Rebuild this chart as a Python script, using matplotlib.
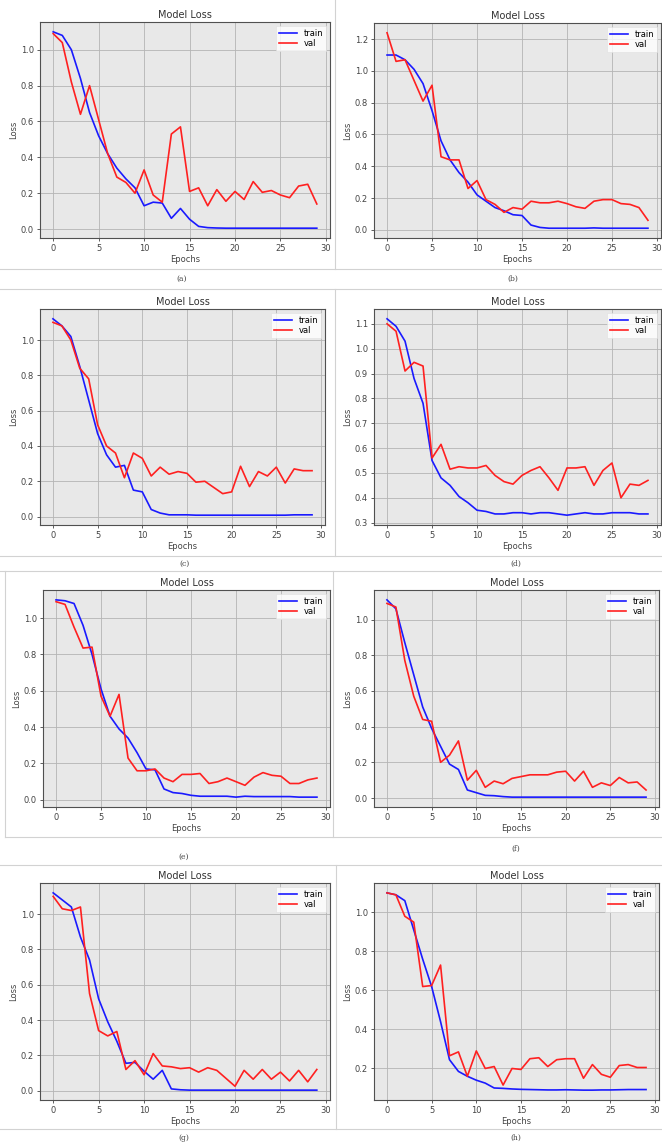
import matplotlib
matplotlib.use('Agg')
import matplotlib.pyplot as plt
from matplotlib.lines import Line2D

# Figure size in pixels
W, H = 662, 1147

epochs = list(range(30))

# Loss curves, one pair per panel
train_a = [1.10, 1.08, 1.00, 0.84, 0.65, 0.52, 0.42, 0.34, 0.28, 0.23, 0.13, 0.15, 0.145, 0.06, 0.115,
           0.055, 0.015, 0.008, 0.006, 0.005, 0.005, 0.005, 0.005, 0.005, 0.005, 0.005, 0.005, 0.005, 0.005, 0.005]
val_a = [1.09, 1.04, 0.82, 0.64, 0.80, 0.61, 0.42, 0.29, 0.26, 0.20, 0.33, 0.19, 0.15, 0.53, 0.57,
         0.21, 0.23, 0.13, 0.22, 0.155, 0.21, 0.165, 0.265, 0.205, 0.215, 0.19, 0.175, 0.24, 0.25, 0.14]

train_b = [1.10, 1.10, 1.07, 1.01, 0.92, 0.75, 0.56, 0.44, 0.36, 0.30, 0.22, 0.18, 0.14, 0.12, 0.095,
           0.09, 0.03, 0.015, 0.01, 0.01, 0.01, 0.01, 0.01, 0.012, 0.01, 0.01, 0.01, 0.01, 0.01, 0.01]
val_b = [1.24, 1.06, 1.07, 0.94, 0.81, 0.91, 0.46, 0.44, 0.44, 0.26, 0.31, 0.19, 0.16, 0.11, 0.14,
         0.13, 0.18, 0.17, 0.17, 0.18, 0.165, 0.145, 0.135, 0.18, 0.19, 0.19, 0.165, 0.16, 0.14, 0.06]

train_c = [1.12, 1.08, 1.02, 0.85, 0.66, 0.47, 0.35, 0.28, 0.29, 0.15, 0.14, 0.04, 0.02, 0.01, 0.01,
           0.01, 0.008, 0.008, 0.008, 0.008, 0.008, 0.008, 0.008, 0.008, 0.008, 0.008, 0.008, 0.01, 0.01, 0.01]
val_c = [1.10, 1.08, 1.00, 0.84, 0.78, 0.52, 0.40, 0.36, 0.22, 0.36, 0.33, 0.23, 0.28, 0.24, 0.255,
         0.245, 0.195, 0.20, 0.165, 0.13, 0.14, 0.285, 0.17, 0.255, 0.23, 0.28, 0.19, 0.27, 0.26, 0.26]

train_d = [1.12, 1.09, 1.03, 0.88, 0.78, 0.55, 0.48, 0.45, 0.405, 0.38, 0.35, 0.345, 0.335, 0.335, 0.34,
           0.34, 0.335, 0.34, 0.34, 0.335, 0.33, 0.335, 0.34, 0.335, 0.335, 0.34, 0.34, 0.34, 0.335, 0.335]
val_d = [1.10, 1.07, 0.91, 0.945, 0.93, 0.56, 0.615, 0.515, 0.525, 0.52, 0.52, 0.53, 0.49, 0.465, 0.455,
         0.49, 0.51, 0.525, 0.48, 0.43, 0.52, 0.52, 0.525, 0.45, 0.51, 0.54, 0.40, 0.455, 0.45, 0.47]

train_e = [1.10, 1.095, 1.08, 0.96, 0.80, 0.61, 0.46, 0.39, 0.34, 0.26, 0.17, 0.165, 0.06, 0.04, 0.035,
           0.025, 0.02, 0.02, 0.02, 0.02, 0.015, 0.02, 0.018, 0.018, 0.018, 0.018, 0.018, 0.015, 0.015, 0.015]
val_e = [1.09, 1.075, 0.95, 0.835, 0.84, 0.57, 0.46, 0.58, 0.23, 0.16, 0.16, 0.17, 0.12, 0.10, 0.14,
         0.14, 0.145, 0.09, 0.10, 0.12, 0.10, 0.08, 0.125, 0.15, 0.135, 0.13, 0.09, 0.09, 0.11, 0.12]

train_f = [1.11, 1.06, 0.87, 0.69, 0.51, 0.39, 0.29, 0.19, 0.16, 0.045, 0.03, 0.015, 0.013, 0.008, 0.005,
           0.005, 0.005, 0.005, 0.005, 0.005, 0.005, 0.005, 0.005, 0.005, 0.005, 0.005, 0.005, 0.005, 0.005, 0.005]
val_f = [1.09, 1.07, 0.77, 0.57, 0.44, 0.43, 0.20, 0.24, 0.32, 0.10, 0.155, 0.06, 0.095, 0.08, 0.11,
         0.12, 0.13, 0.13, 0.13, 0.145, 0.15, 0.095, 0.15, 0.06, 0.085, 0.07, 0.115, 0.085, 0.09, 0.045]

train_g = [1.12, 1.08, 1.04, 0.87, 0.74, 0.52, 0.39, 0.28, 0.155, 0.16, 0.11, 0.065, 0.115, 0.01, 0.005,
           0.003, 0.003, 0.003, 0.003, 0.003, 0.003, 0.003, 0.003, 0.003, 0.003, 0.003, 0.003, 0.003, 0.003, 0.003]
val_g = [1.10, 1.03, 1.02, 1.04, 0.55, 0.34, 0.31, 0.335, 0.12, 0.17, 0.09, 0.21, 0.14, 0.135, 0.125,
         0.13, 0.105, 0.13, 0.115, 0.07, 0.025, 0.115, 0.065, 0.12, 0.065, 0.105, 0.055, 0.115, 0.05, 0.12]

train_h = [1.10, 1.09, 1.06, 0.91, 0.76, 0.62, 0.44, 0.245, 0.185, 0.16, 0.14, 0.125, 0.10, 0.098, 0.095,
           0.093, 0.092, 0.091, 0.09, 0.09, 0.091, 0.09, 0.089, 0.089, 0.09, 0.09, 0.091, 0.092, 0.092, 0.092]
val_h = [1.10, 1.09, 0.98, 0.95, 0.62, 0.625, 0.73, 0.265, 0.285, 0.16, 0.29, 0.20, 0.21, 0.115, 0.20,
         0.195, 0.25, 0.255, 0.21, 0.245, 0.25, 0.25, 0.15, 0.22, 0.17, 0.155, 0.215, 0.22, 0.205, 0.205]

captions = ['(a)', '(b)', '(c)', '(d)', '(e)', '(f)', '(g)', '(h)']
train_all = [train_a, train_b, train_c, train_d, train_e, train_f, train_g, train_h]
val_all = [val_a, val_b, val_c, val_d, val_e, val_f, val_g, val_h]

# axes boxes in pixels: left, top, right, bottom
boxes = [(40, 22, 330, 238), (374, 23, 661, 238),
         (40, 309, 325, 525), (374, 309, 661, 525),
         (43, 590, 330, 807), (374, 590, 659, 807),
         (40, 883, 330, 1100), (374, 883, 659, 1100)]
caption_pos = [(182, 279), (513, 279), (184, 564), (516, 564),
               (184, 857), (516, 849), (184, 1138), (516, 1138)]

fig = plt.figure(figsize=(W / 100, H / 100), dpi=100)
fig.patch.set_facecolor('white')

for i in range(8):
    l, t, r, b = boxes[i]
    ax = fig.add_axes([l / W, 1 - b / H, (r - l) / W, (b - t) / H])
    ax.set_facecolor('#e8e8e8')
    ax.plot(epochs, train_all[i], color='#1a1aff', lw=1.2, label='train')
    ax.plot(epochs, val_all[i], color='#ff2020', lw=1.2, label='val')
    ax.grid(True, color='#b4b4b4', lw=0.6)
    ax.set_axisbelow(True)
    ax.set_title('Model Loss', fontsize=7, color='#333333', pad=3)
    ax.set_xlabel('Epochs', fontsize=6, color='#444444', labelpad=1)
    ax.set_ylabel('Loss', fontsize=6, color='#444444', labelpad=2)
    ax.tick_params(labelsize=6, colors='#444444', length=2.5, width=0.6, pad=2)
    for s in ax.spines.values():
        s.set_color('#505050')
        s.set_linewidth(0.8)
    ax.set_xticks([0, 5, 10, 15, 20, 25, 30])
    leg = ax.legend(loc='upper right', fontsize=6, frameon=True, fancybox=False,
                    handlelength=2.2, borderpad=0.3, labelspacing=0.2)
    leg.get_frame().set_edgecolor('#e0e0e0')
    leg.get_frame().set_linewidth(0.5)
    cx, cy = caption_pos[i]
    fig.text(cx / W, 1 - cy / H, captions[i], fontsize=5.5, ha='center', va='center',
             color='#444444', family='serif')

# thin separator lines of the surrounding table
sep = '#d2d2d2'
segments = [((0, 662), (269, 269)), ((0, 662), (289, 289)), ((335, 335), (0, 269)),
            ((0, 662), (556, 556)), ((0, 662), (571, 571)), ((335, 335), (289, 556)),
            ((5, 5), (571, 837)), ((5, 662), (837, 837)), ((333, 333), (571, 837)),
            ((0, 662), (865, 865)), ((336, 336), (865, 1129)), ((0, 662), (1129, 1129))]
for xs, ys in segments:
    fig.add_artist(Line2D([x / W for x in xs], [1 - y / H for y in ys], color=sep, lw=0.8))

fig.savefig('out.png', dpi=100)
